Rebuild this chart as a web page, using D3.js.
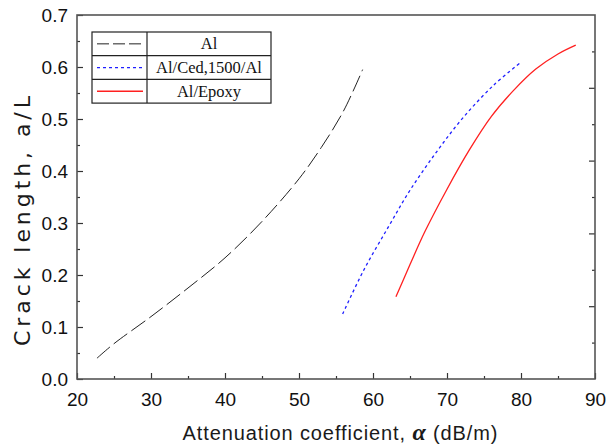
<!DOCTYPE html>
<html lang="en">
<head>
    <meta charset="UTF-8">
    <script src="https://cdnjs.cloudflare.com/ajax/libs/d3/7.8.5/d3.min.js"></script>
    <style>
        body { margin: 0; background: #fff; }
        svg { display: block; }
    </style>
</head>
<body>
<svg id="chart" width="607" height="446"></svg>
<script>
    // values
    const seriesNames = ['Al', 'Al/Ced,1500/Al', 'Al/Epoxy'];
    const alX = [22.7, 25, 30, 35, 40, 45, 50, 53, 56, 58.6];
    const alY = [0.04, 0.068, 0.12, 0.175, 0.233, 0.303, 0.385, 0.445, 0.515, 0.595];
    const cedX = [55.9, 58.7, 62.1, 65.0, 68.6, 72.2, 76.3, 79.8];
    const cedY = [0.125, 0.208, 0.293, 0.363, 0.437, 0.503, 0.565, 0.607];
    const epoxyX = [63.1, 65, 67, 70, 73, 76, 79, 82, 85, 87.4];
    const epoxyY = [0.158, 0.22, 0.283, 0.365, 0.44, 0.505, 0.555, 0.596, 0.625, 0.642];
    const xTicks = [20, 30, 40, 50, 60, 70, 80, 90];
    const yTicks = [0.0, 0.1, 0.2, 0.3, 0.4, 0.5, 0.6, 0.7];

    const mLeft = 77, mTop = 15, w = 518, h = 364;
    const svg = d3.select('#chart');
    const g = svg.append('g').attr('transform', `translate(${mLeft},${mTop})`);

    const x = d3.scaleLinear().domain([20, 90]).range([0, w]);
    const y = d3.scaleLinear().domain([0, 0.7]).range([h, 0]);
    // right axis carries its own tick spacing in the original
    const yRight = d3.scaleLinear().domain([0, 50]).range([h, 0]);

    const tickFont = '"Liberation Sans", Arial, sans-serif';

    // minor ticks
    g.append('g').attr('transform', `translate(0,${h})`)
        .call(d3.axisBottom(x).tickValues(d3.range(25, 90, 10)).tickSize(-3).tickFormat(''))
        .call(a => a.select('.domain').remove());
    g.append('g')
        .call(d3.axisLeft(y).tickValues(d3.range(0.05, 0.7, 0.1)).tickSize(-3).tickFormat(''))
        .call(a => a.select('.domain').remove());

    // major ticks and labels
    const xAxis = g.append('g').attr('transform', `translate(0,${h})`)
        .call(d3.axisBottom(x).tickValues(xTicks).tickSize(-6).tickPadding(14).tickFormat(d3.format('d')));
    const yAxis = g.append('g')
        .call(d3.axisLeft(y).tickValues(yTicks).tickSize(-6).tickPadding(9).tickFormat(d3.format('.1f')));

    g.append('g').attr('transform', `translate(${w},0)`)
        .call(d3.axisRight(yRight).tickValues(d3.range(5, 50, 5))
            .tickSize(0).tickFormat(''))
        .call(a => a.select('.domain').remove())
        .selectAll('.tick line')
        .attr('x2', d => d % 10 === 0 ? -6 : -3);

    [xAxis, yAxis].forEach(a => {
        a.select('.domain').remove();
        a.selectAll('text').style('font-family', tickFont).style('font-size', '19px').attr('fill', '#111');
    });
    xAxis.selectAll('text').attr('dy', '0.71em');
    g.selectAll('.tick line').attr('stroke', '#333').attr('stroke-width', 1.2);

    // frame
    g.append('rect').attr('width', w).attr('height', h)
        .attr('fill', 'none').attr('stroke', '#555').attr('stroke-width', 1.6);

    const line = d3.line().x(d => x(d[0])).y(d => y(d[1])).curve(d3.curveCatmullRom.alpha(0.5));
    const series = [
        { name: seriesNames[0], xs: alX, ys: alY, color: '#222', dash: '17,5', width: 1 },
        { name: seriesNames[1], xs: cedX, ys: cedY, color: '#1f1fff', dash: '3,3', width: 1.3 },
        { name: seriesNames[2], xs: epoxyX, ys: epoxyY, color: '#ff2020', dash: null, width: 1.3 }
    ];
    series.forEach(s => {
        g.append('path')
            .datum(d3.zip(s.xs, s.ys))
            .attr('d', line)
            .attr('fill', 'none')
            .attr('stroke', s.color)
            .attr('stroke-width', s.width)
            .attr('stroke-dasharray', s.dash);
    });

    // legend table
    const lg = svg.append('g').attr('transform', 'translate(92,32)');
    const rowH = 23.7, lw = 179, split = 55;
    lg.append('rect').attr('width', lw).attr('height', rowH * 3)
        .attr('fill', '#fff').attr('stroke', '#222').attr('stroke-width', 1.2);
    lg.append('line').attr('x1', split).attr('x2', split).attr('y1', 0).attr('y2', rowH * 3)
        .attr('stroke', '#222').attr('stroke-width', 1.2);
    series.forEach((s, i) => {
        if (i > 0) {
            lg.append('line').attr('x1', 0).attr('x2', lw).attr('y1', rowH * i).attr('y2', rowH * i)
                .attr('stroke', '#222').attr('stroke-width', 1.2);
        }
        const cy = rowH * i + rowH / 2;
        lg.append('line').attr('x1', 5).attr('x2', 51).attr('y1', cy).attr('y2', cy)
            .attr('stroke', s.color).attr('stroke-width', s.width)
            .attr('stroke-dasharray', i === 0 ? '12,4' : s.dash);
        lg.append('text').attr('x', (split + lw) / 2).attr('y', cy + 5.5)
            .attr('text-anchor', 'middle')
            .style('font-family', '"Liberation Serif", "DejaVu Serif", serif')
            .style('font-size', '16.5px').attr('fill', '#111')
            .text(s.name);
    });

    // axis titles
    svg.append('text')
        .attr('transform', 'translate(30,221) rotate(-90)')
        .attr('text-anchor', 'middle')
        .attr('textLength', 250).attr('lengthAdjust', 'spacing')
        .style('font-family', '"DejaVu Sans", sans-serif').style('font-size', '22px').attr('fill', '#1a1a1a')
        .text('Crack length, a/L');

    const xt = svg.append('text')
        .attr('x', 340).attr('y', 440)
        .attr('text-anchor', 'middle')
        .attr('textLength', 315).attr('lengthAdjust', 'spacing')
        .style('font-family', tickFont).style('font-size', '20px').attr('fill', '#1a1a1a');
    xt.append('tspan').text('Attenuation coefficient, ');
    xt.append('tspan').text('α')
        .style('font-family', '"Liberation Serif", serif').style('font-weight', 'bold').style('font-style', 'italic')
        .style('font-size', '24px');
    xt.append('tspan').text(' (dB/m)');
</script>
</body>
</html>
